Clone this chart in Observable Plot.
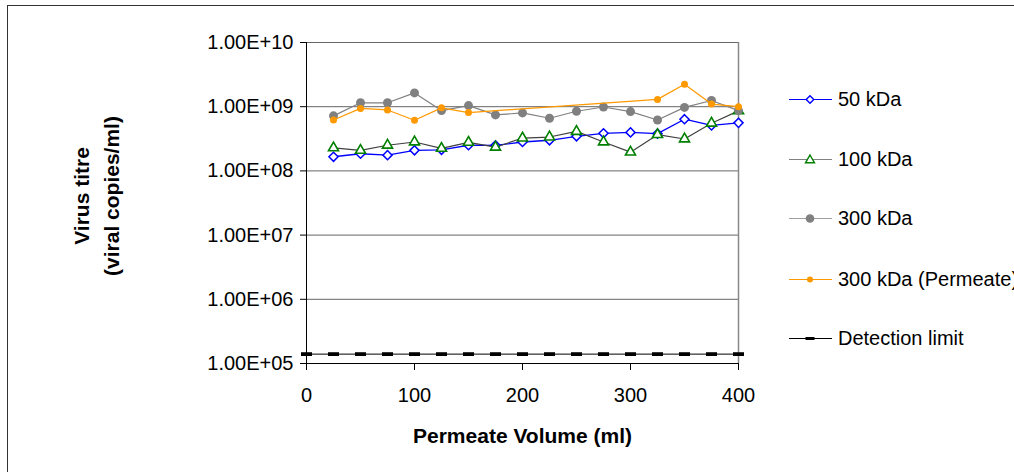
<!DOCTYPE html>
<html>
<head>
<meta charset="utf-8">
<script src="https://cdn.jsdelivr.net/npm/d3@7"></script>
<script src="https://cdn.jsdelivr.net/npm/@observablehq/plot@0.6"></script>
<style>
  html, body { margin: 0; padding: 0; background: #fff; }
  body { width: 1014px; height: 472px; overflow: hidden; position: relative;
         font-family: "Liberation Sans", Arial, sans-serif; }
  #frame { position: absolute; left: 7px; top: 5px; width: 1100px; height: 600px;
           border: 1.5px solid #333; box-sizing: border-box; pointer-events: none; }
  #chart { position: absolute; left: 0; top: 0; }
  .lrow { position: absolute; left: 789px; height: 24px; display: flex; align-items: center;
          font-size: 20px; white-space: nowrap; color: #000; }
  .lrow svg { display: block; margin-right: 6px; }
</style>
</head>
<body>
<div id="chart"></div>
<div id="legend"></div>
<div id="frame"></div>
<script>
// ---- data ----
const volumes = [25, 50, 75, 100, 125, 150, 175, 200, 225, 250, 275, 300, 325, 350, 375, 400];
const kda50 = [1.66e8, 1.85e8, 1.76e8, 2.09e8, 2.13e8, 2.51e8, 2.5e8, 2.82e8, 3.0e8, 3.46e8, 3.85e8, 3.98e8, 3.8e8, 6.38e8, 5.1e8, 5.6e8];
const kda100 = [2.28e8, 2.09e8, 2.51e8, 2.82e8, 2.24e8, 2.79e8, 2.34e8, 3.25e8, 3.37e8, 4.12e8, 2.82e8, 1.96e8, 3.67e8, 3.14e8, 5.53e8, 8.6e8];
const kda300 = [7.2e8, 1.15e9, 1.15e9, 1.64e9, 8.7e8, 1.04e9, 7.45e8, 8.0e8, 6.6e8, 8.5e8, 9.9e8, 8.4e8, 6.2e8, 9.75e8, 1.25e9, 8.7e8];
const permeateVolumes = [25, 50, 75, 100, 125, 150, 325, 350, 375, 400];
const kda300Permeate = [6.2e8, 9.4e8, 8.9e8, 6.15e8, 9.6e8, 8.1e8, 1.3e9, 2.24e9, 1.1e9, 1.0e9];
const detectionVolumes = [0, 25, 50, 75, 100, 125, 150, 175, 200, 225, 250, 275, 300, 325, 350, 375, 400];
const detectionLimit = 1.4e5;

const seriesNames = ["50 kDa", "100 kDa", "300 kDa", "300 kDa (Permeate)", "Detection limit"];
const xTicks = [0, 100, 200, 300, 400];
const yTicks = [1e5, 1e6, 1e7, 1e8, 1e9, 1e10];
const xTitle = "Permeate Volume (ml)";
const yTitle = "Virus titre\n(viral copies/ml)";

// ---- helpers ----
const fmt = v => v.toExponential(2).toUpperCase().replace(/E([+-])(\d)$/, "E$10$2");
const rows = (xs, ys) => xs.map((x, i) => ({x, y: ys[i]}));
const s50 = rows(volumes, kda50);
const s100 = rows(volumes, kda100);
const s300 = rows(volumes, kda300);
const sPerm = rows(permeateVolumes, kda300Permeate);
const sDet = detectionVolumes.map(x => ({x, y: detectionLimit}));

const dashSymbol = {
  draw(ctx) {
    ctx.moveTo(-5.5, -1.9); ctx.lineTo(5.5, -1.9); ctx.lineTo(5.5, 1.9); ctx.lineTo(-5.5, 1.9); ctx.closePath();
  }
};

const plot = Plot.plot({
  width: 1014,
  height: 472,
  marginLeft: 306,
  marginRight: 276,
  marginTop: 42,
  marginBottom: 109,
  style: {fontFamily: "'Liberation Sans', Arial, sans-serif", fontSize: "20px", background: "transparent", color: "#000"},
  x: {domain: [0, 400], label: null},
  y: {type: "log", domain: [1e5, 1e10], label: null},
  marks: [
    Plot.ruleY(yTicks, {stroke: "#666", strokeWidth: 1}),
    Plot.ruleX([400], {stroke: "#888", strokeWidth: 1.5}),
    Plot.axisX({ticks: xTicks, tickSize: 7, tickPadding: 17, tickFormat: d => String(d), label: null, stroke: "#000"}),
    Plot.axisY({ticks: yTicks, tickSize: 6, tickPadding: 7, tickFormat: fmt, label: null, stroke: "#000"}),
    Plot.ruleX([0], {stroke: "#000", strokeWidth: 1}),
    Plot.ruleY([1e5], {stroke: "#000", strokeWidth: 1}),

    Plot.line(s50, {x: "x", y: "y", stroke: "#0000ff", strokeWidth: 1.3}),
    Plot.dot(s50, {x: "x", y: "y", symbol: "diamond2", r: 4.1, stroke: "#0000ff", fill: "white", strokeWidth: 1.5}),

    Plot.line(s100, {x: "x", y: "y", stroke: "#404040", strokeWidth: 1.2}),
    Plot.dot(s100, {x: "x", y: "y", symbol: "triangle2", r: 4.8, stroke: "#008000", fill: "white", strokeWidth: 1.6}),

    Plot.line(s300, {x: "x", y: "y", stroke: "#808080", strokeWidth: 1.2}),
    Plot.dot(s300, {x: "x", y: "y", r: 4.5, fill: "#808080", stroke: "none"}),

    Plot.line(sPerm, {x: "x", y: "y", stroke: "#ff9900", strokeWidth: 1.2}),
    Plot.dot(sPerm, {x: "x", y: "y", r: 3.5, fill: "#ff9900", stroke: "none"}),

    Plot.line(sDet, {x: "x", y: "y", stroke: "#000", strokeWidth: 1}),
    Plot.dot(sDet, {x: "x", y: "y", symbol: dashSymbol, fill: "#000", stroke: "none"}),

    Plot.text([xTitle], {frameAnchor: "bottom", dy: 73, fontWeight: "bold", fontSize: 21, lineAnchor: "middle", textAnchor: "middle"}),
    Plot.text([yTitle], {frameAnchor: "left", rotate: -90, dx: -212, dy: -7, fontWeight: "bold", fontSize: 21, lineHeight: 1.43, lineAnchor: "middle", textAnchor: "middle"})
  ]
});
document.getElementById("chart").appendChild(plot);

// ---- legend (HTML, beside the plot) ----
const legendCenters = [99, 159, 218, 279, 338];
const legendStyles = [
  {line: "#0000ff", marker: "diamond"},
  {line: "#808080", marker: "triangle"},
  {line: "#a0a0a0", marker: "circle"},
  {line: "#ff9900", marker: "dot"},
  {line: "#000", marker: "dash"}
];
const legend = d3.select("#legend");
seriesNames.forEach((name, i) => {
  const row = legend.append("div").attr("class", "lrow").style("top", (legendCenters[i] - 12) + "px");
  const svg = row.append("svg").attr("width", 43).attr("height", 24);
  const st = legendStyles[i];
  svg.append("line").attr("x1", 0).attr("x2", 43).attr("y1", 12.5).attr("y2", 12.5).attr("stroke", st.line).attr("stroke-width", 1);
  const g = svg.append("g").attr("transform", "translate(21,12.5)");
  if (st.marker === "diamond") g.append("path").attr("d", "M0,-3.8L3.8,0L0,3.8L-3.8,0Z").attr("fill", "white").attr("stroke", "#0000ff").attr("stroke-width", 1.4);
  if (st.marker === "triangle") g.append("path").attr("d", "M0,-4.5L4.5,3.3L-4.5,3.3Z").attr("fill", "white").attr("stroke", "#008000").attr("stroke-width", 1.4);
  if (st.marker === "circle") g.append("circle").attr("r", 4.3).attr("fill", "#808080");
  if (st.marker === "dot") g.append("circle").attr("r", 3).attr("fill", "#ff9900");
  if (st.marker === "dash") g.append("rect").attr("x", -4.5).attr("y", -1.5).attr("width", 9).attr("height", 3).attr("fill", "#000");
  row.append("span").text(name);
});
</script>
</body>
</html>
